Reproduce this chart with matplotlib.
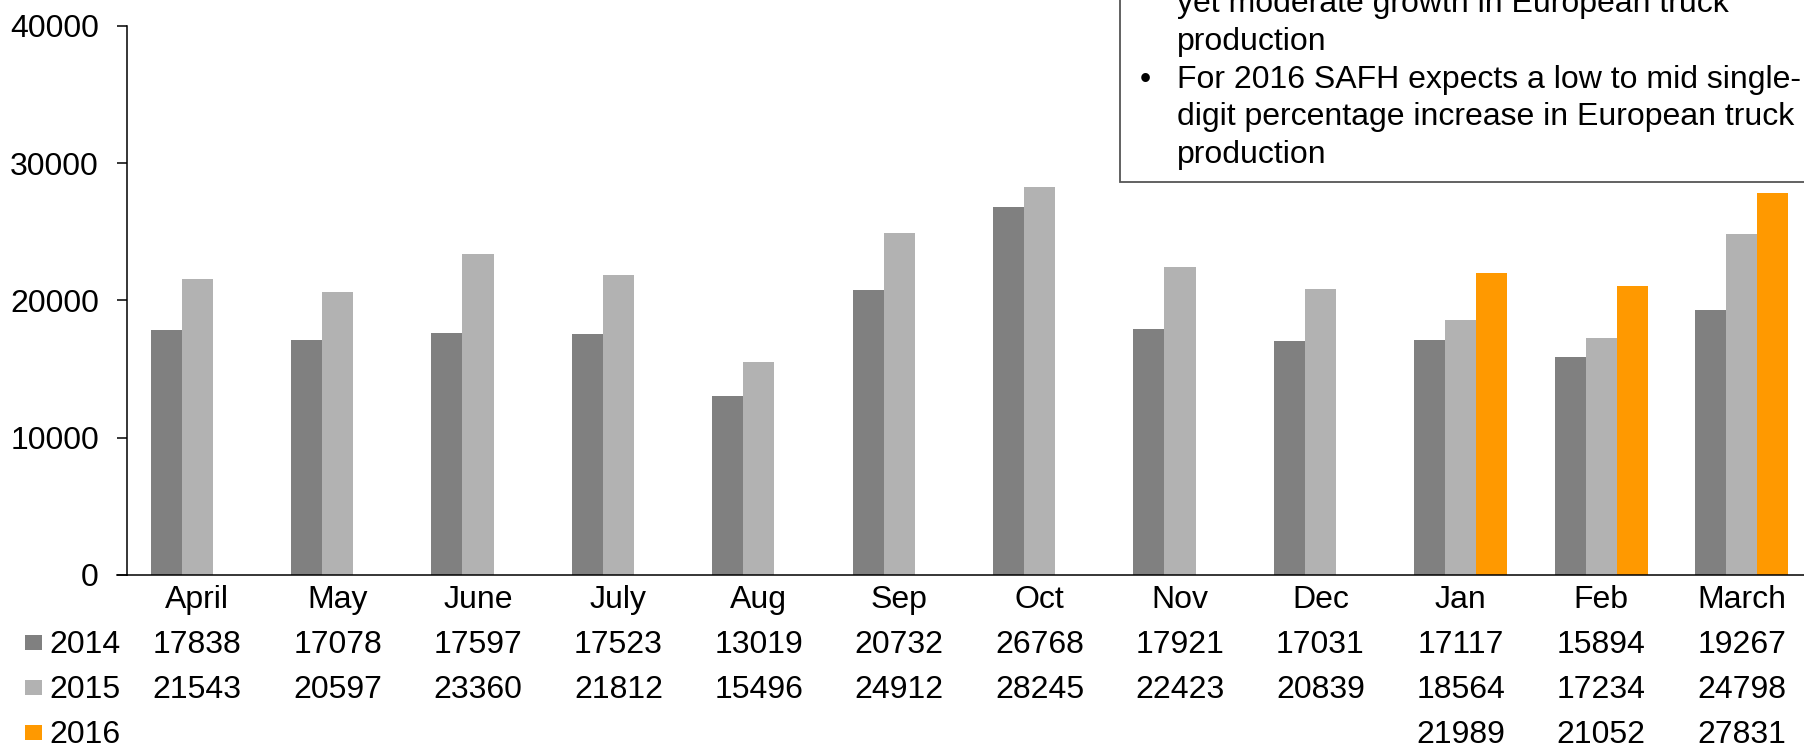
import matplotlib.pyplot as plt
import matplotlib.patches as mpatches
import matplotlib.transforms as mtransforms
import numpy as np

plt.rcParams['font.family'] = ['Liberation Sans', 'DejaVu Sans']

# Monthly European truck production, April to March
months = ["April", "May", "June", "July", "Aug", "Sep", "Oct", "Nov", "Dec", "Jan", "Feb", "March"]
prod_2014 = [17838, 17078, 17597, 17523, 13019, 20732, 26768, 17921, 17031, 17117, 15894, 19267]
prod_2015 = [21543, 20597, 23360, 21812, 15496, 24912, 28245, 22423, 20839, 18564, 17234, 24798]
prod_2016 = [None, None, None, None, None, None, None, None, None, 21989, 21052, 27831]

years = ["2014", "2015", "2016"]
colors = ["#808080", "#b2b2b2", "#ff9900"]

note_lines = [
    ("", "yet moderate growth in European truck"),
    ("", "production"),
    ("\u2022", "For 2016 SAFH expects a low to mid single-"),
    ("", "digit percentage increase in European truck"),
    ("", "production"),
]

W, H = 1804, 745
FS = 23


def fx(px):
    return px / W


def fy(px):
    return 1 - px / H


fig = plt.figure(figsize=(W / 100, H / 100), dpi=100)
# plot area runs off the right edge of the page
ax = fig.add_axes([fx(127), fy(575), fx(12 * 140.4), (575 - 25.7) / H])

series = [prod_2014, prod_2015, prod_2016]
x = np.arange(len(months))
bw = 0.221
for k, (vals, col) in enumerate(zip(series, colors)):
    v = np.array([np.nan if a is None else a for a in vals], dtype=float)
    ax.bar(x + (k - 1) * bw, v, width=bw, color=col, edgecolor='none')

ax.set_xlim(-0.5, len(months) - 0.5)
ax.set_ylim(0, 40000)
ax.set_yticks([0, 10000, 20000, 30000, 40000])
ax.set_xticks(x)
ax.set_xticklabels(months)
ax.tick_params(axis='y', labelsize=FS, length=7.2, width=1.1, pad=13, direction='out')
ax.tick_params(axis='x', labelsize=FS, length=0, pad=7)
for s in ['top', 'right']:
    ax.spines[s].set_visible(False)
for s in ['left', 'bottom']:
    ax.spines[s].set_linewidth(1.1)
    ax.spines[s].set_color('black')
# extend the baseline under the zero tick
ax.plot([-0.5 - 10 / 140.4, -0.5], [0, 0], color='black', lw=1.1, clip_on=False)

# data table under the chart: legend key, year, then one value per month
blend = mtransforms.blended_transform_factory(ax.transData, fig.transFigure)
row_base = [653.3, 698.3, 743.3]
for k, (vals, col, yr) in enumerate(zip(series, colors, years)):
    base = row_base[k]
    fig.add_artist(mpatches.Rectangle((fx(25), fy(base - 3)), fx(16.5), 15.5 / H,
                                      transform=fig.transFigure, color=col, lw=0))
    fig.text(fx(49), fy(base), yr, fontsize=FS, ha='left', va='baseline')
    for i, val in enumerate(vals):
        if val is None:
            continue
        ax.text(i, fy(base), str(val), fontsize=FS, ha='center', va='baseline',
                transform=blend, clip_on=False)

# commentary box in the top right corner
box = mpatches.Rectangle((fx(1120), fy(182)), 1.0, 1.0, transform=fig.transFigure,
                         facecolor='white', edgecolor='#555555', lw=1.3, zorder=5)
fig.add_artist(box)
base = 12
for bullet, line in note_lines:
    if bullet:
        fig.text(fx(1145), fy(base), bullet, fontsize=FS, ha='center', va='baseline', zorder=6)
    fig.text(fx(1177), fy(base), line, fontsize=FS, ha='left', va='baseline', zorder=6)
    base += 37.8

fig.savefig("out.png", dpi=100)
